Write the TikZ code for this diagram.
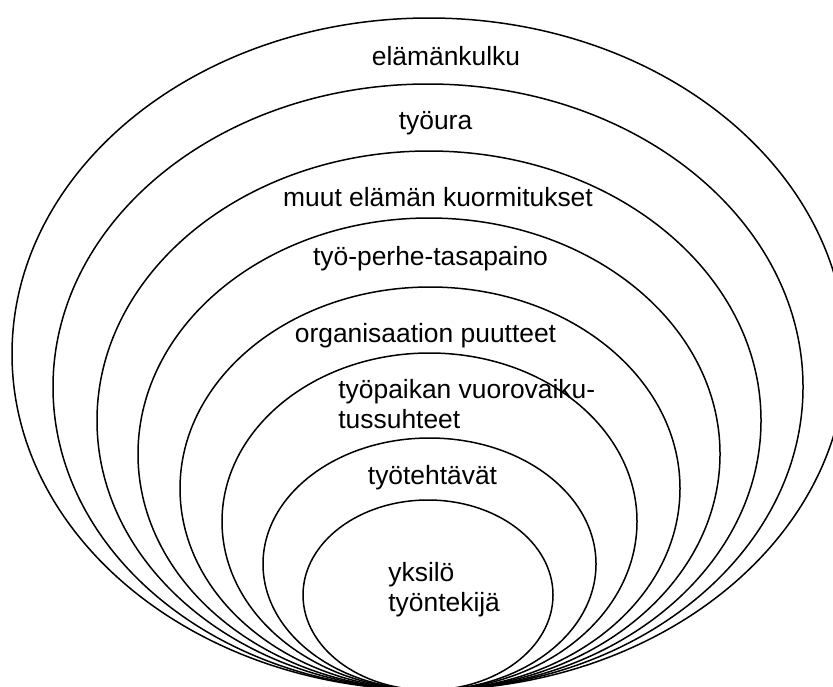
\documentclass[tikz,border=0pt]{standalone}
\usepackage{fontspec}
\setmainfont{Liberation Sans}
\tikzset{
    ring/.style={draw=black, line width=0.75pt},
    lbl/.style={inner sep=0pt, anchor=base, font=\fontsize{13.2}{15}\selectfont},
}
\begin{document}
\begin{tikzpicture}[x=0.5pt, y=-0.5pt]
    \useasboundingbox (0,0) rectangle (833,686);
    \clip (0,0) rectangle (833,686);

    % nested rings, all meeting at the bottom
    \foreach \cx/\cy/\a/\b in {429/354/417/336, 428/387/375/303, 429/420.5/332/269.5,
        429/454/291/236, 430/488.5/250/201.5, 429.5/521.5/207.5/168.5,
        429.5/564/166.5/126, 428/595/125/95}
        \draw[ring] (\cx,\cy) ellipse [x radius=\a, y radius=\b];

    % labels, outermost first
    \node[lbl] (kulku) at (446,65) {elämänkulku};
    \node[lbl] (ura) at (435.5,129) {työura};
    \node[lbl] (kuorma) at (438,206) {muut elämän kuormitukset};
    \node[lbl] (perhe) at (430.5,265) {työ-perhe-tasapaino};
    \node[lbl] (puute) at (425.5,342) {organisaation puutteet};
    \node[lbl, anchor=base west] (vuoro) at (338,398) {työpaikan vuorovaiku-};
    \node[lbl, anchor=base west] (suhde) at (338,428) {tussuhteet};
    \node[lbl] (tehtava) at (432.5,484) {työtehtävät};
    \node[lbl, anchor=base west] (yksilo) at (388,581) {yksilö};
    \node[lbl, anchor=base west] (tekija) at (388,611) {työntekijä};
\end{tikzpicture}
\end{document}
